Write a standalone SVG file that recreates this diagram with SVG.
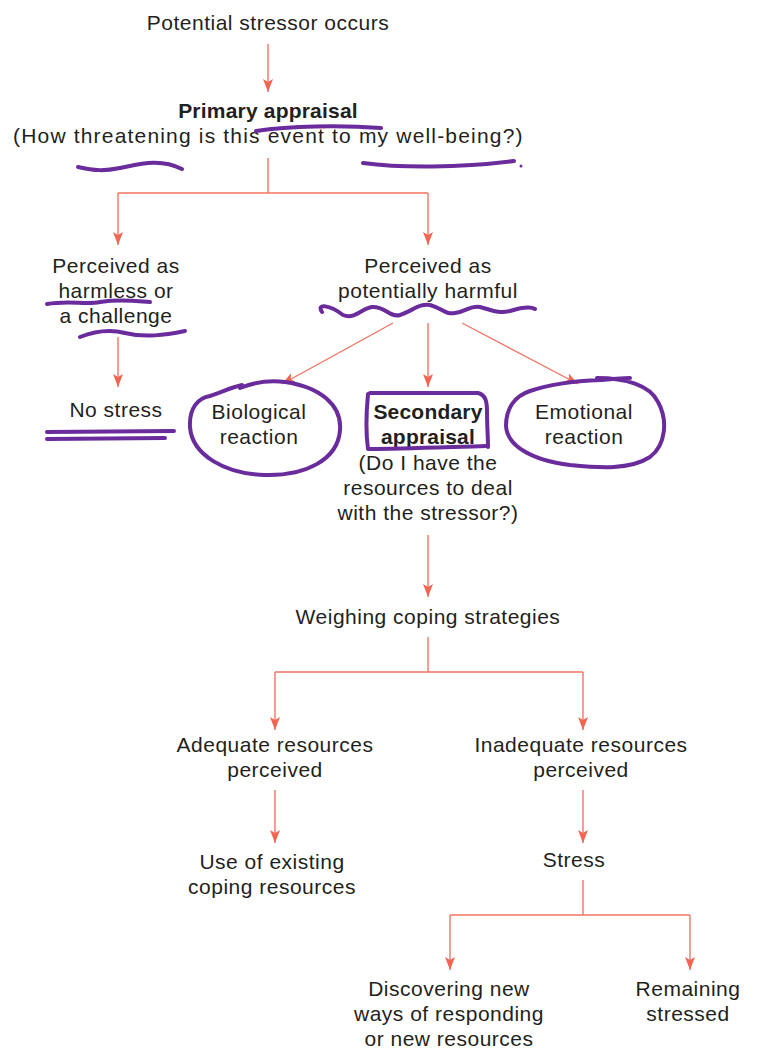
<svg xmlns="http://www.w3.org/2000/svg" width="769" height="1054" viewBox="0 0 769 1054">
<style>
text{font-family:"Liberation Sans",Arial,sans-serif;font-size:21px;letter-spacing:0.5px;fill:#231f20;text-anchor:middle}
.b{font-weight:bold;letter-spacing:0.2px}
.c{fill:none;stroke:#f27463;stroke-width:1.4}
.a{fill:none;stroke:#f27463;stroke-width:1.4;marker-end:url(#ah)}
.p{fill:none;stroke:#6a2c9c;stroke-width:4;stroke-linecap:round;stroke-linejoin:round}
</style>
<defs>
<marker id="ah" markerUnits="userSpaceOnUse" markerWidth="14" markerHeight="12" refX="13" refY="5" orient="auto" viewBox="0 0 14 10">
<path d="M0,0 L13,5 L0,10 L3,5 Z" fill="#f26552"/>
</marker>
</defs>
<rect width="769" height="1054" fill="#fff"/>
<g id="connectors">
<path class="a" d="M268,44 V92"/>
<path class="c" d="M268,158 V193 M118,193 H428"/>
<path class="a" d="M118,193 V245"/>
<path class="a" d="M428,193 V245"/>
<path class="a" d="M118,337 V387"/>
<path class="a" d="M393,323 L282,384"/>
<path class="a" d="M428,323 V387"/>
<path class="a" d="M462,323 L578,384"/>
<path class="a" d="M428,535 V597"/>
<path class="c" d="M428,637 V672 M275,672 H583"/>
<path class="a" d="M275,672 V730"/>
<path class="a" d="M583,672 V730"/>
<path class="a" d="M275,790 V843"/>
<path class="a" d="M583,790 V843"/>
<path class="c" d="M583,880 V915 M450,915 H690"/>
<path class="a" d="M450,915 V970"/>
<path class="a" d="M690,915 V970"/>
</g>
<g id="n-stressor"><text x="268" y="30">Potential stressor occurs</text></g>
<g id="n-primary"><text class="b" x="268" y="118">Primary appraisal</text><text x="268" y="143" textLength="510">(How threatening is this event to my well-being?)</text></g>
<g id="n-harmless"><text x="116" y="273">Perceived as</text><text x="116" y="298">harmless or</text><text x="116" y="323">a challenge</text></g>
<g id="n-harmful"><text x="428" y="273">Perceived as</text><text x="428" y="298">potentially harmful</text></g>
<g id="n-nostress"><text x="116" y="417">No stress</text></g>
<g id="n-bio"><text x="259" y="419">Biological</text><text x="259" y="444">reaction</text></g>
<g id="n-secondary"><text class="b" x="428" y="419">Secondary</text><text class="b" x="428" y="444">appraisal</text><text x="428" y="470">(Do I have the</text><text x="428" y="495">resources to deal</text><text x="428" y="520">with the stressor?)</text></g>
<g id="n-emotional"><text x="584" y="419">Emotional</text><text x="584" y="444">reaction</text></g>
<g id="n-weighing"><text x="428" y="624">Weighing coping strategies</text></g>
<g id="n-adequate"><text x="275" y="752">Adequate resources</text><text x="275" y="777">perceived</text></g>
<g id="n-inadequate"><text x="581" y="752">Inadequate resources</text><text x="581" y="777">perceived</text></g>
<g id="n-existing"><text x="272" y="869">Use of existing</text><text x="272" y="894">coping resources</text></g>
<g id="n-stress"><text x="574" y="867">Stress</text></g>
<g id="n-discover"><text x="449" y="996">Discovering new</text><text x="449" y="1021">ways of responding</text><text x="449" y="1046">or new resources</text></g>
<g id="n-remaining"><text x="688" y="996">Remaining</text><text x="688" y="1021">stressed</text></g>
<g id="annotations">
<path class="p" d="M256,131 C290,126 340,125 381,128"/>
<path class="p" d="M78,167 C95,171 105,171 120,168 C140,164 160,158 182,169"/>
<path class="p" d="M363,163 C400,168 460,168 514,161"/>
<circle cx="521" cy="166" r="1.5" fill="#6a2c9c"/>
<path class="p" d="M47,304 C70,300 85,305 100,302 C120,299 135,301 150,302"/>
<path class="p" d="M80,337 C95,331 110,329 125,333 C145,338 165,335 185,331"/>
<path class="p" d="M322,312 C316,303 330,305 343,315 C355,320 362,308 372,307 C385,306 390,318 400,315 C412,311 420,303 430,305 C442,308 445,315 455,313 C468,311 470,305 480,307 C492,310 498,314 510,311 C520,308 530,306 535,309"/>
<path class="p" d="M47,432 L174,431 M47,439 L165,438"/>
<path class="p" d="M240,388 C255,382 270,380 285,382 C320,387 342,405 340,430 C338,460 305,476 265,475 C225,474 192,455 190,427 C189,408 198,398 210,396 C222,392 232,387 242,385"/>
<path class="p" d="M368,394 C366,415 366,435 368,449 M370,393 L478,393 C486,395 487,402 487,412 C487,425 488,438 488,447 M369,449 C400,449 450,447 486,446"/>
<path class="p" d="M597,378 C625,378 650,385 658,402 C668,420 666,445 650,457 C630,470 600,468 570,465 C530,460 507,445 506,426 C506,408 515,396 530,391 C550,384 575,381 601,380 C612,379 622,378 630,378"/>
</g>
</svg>
